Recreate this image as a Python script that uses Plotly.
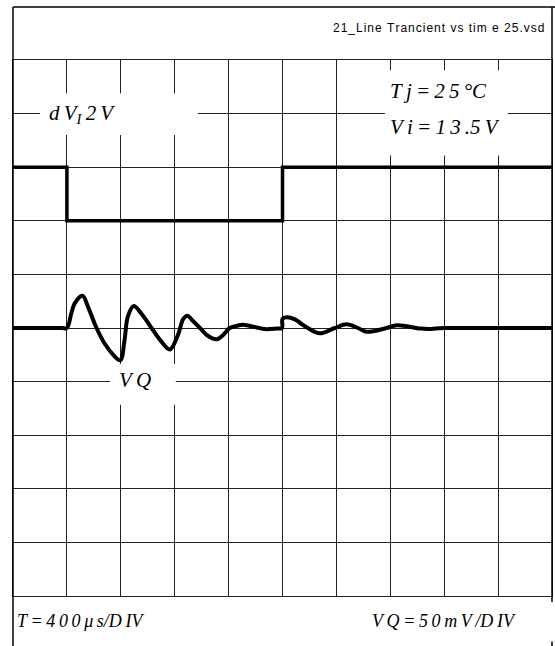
import plotly.graph_objects as go

# ---- data (in screen divisions: x 0..10, y 0..10) ----
step_x = [0, 1, 1, 5, 5, 10]
step_y = [8, 8, 7, 7, 8, 8]

vq_x = [0, 0.9, 1.0, 1.08, 1.145, 1.29, 1.39, 1.55, 1.70, 1.86, 1.99, 2.07, 2.13, 2.24, 2.38,
        2.57, 2.75, 2.91, 3.06, 3.16, 3.24, 3.33, 3.47, 3.62, 3.78, 3.90, 4.02, 4.15, 4.27,
        4.52, 4.67, 4.89, 4.99, 5.0, 5.08, 5.23, 5.36, 5.47, 5.69, 5.97, 6.19, 6.40, 6.56,
        6.93, 7.12, 7.55, 7.70, 7.98, 8.3, 10]
vq_y = [5.0, 5.0, 5.0, 5.27, 5.46, 5.60, 5.40, 5.0, 4.71, 4.50, 4.40, 4.78, 5.21, 5.41, 5.27,
        5.0, 4.75, 4.60, 4.87, 5.17, 5.23, 5.14, 5.0, 4.85, 4.79, 4.87, 5.0, 5.04, 5.06,
        5.01, 4.98, 4.99, 5.0, 5.17, 5.20, 5.16, 5.07, 5.0, 4.90, 5.0, 5.07, 5.0, 4.93,
        5.0, 5.05, 4.99, 4.98, 5.0, 5.0, 5.0]

title_text = "21_Line Trancient vs tim e 25.vsd"
dv_label = "d V<sub>I</sub> 2 V"
tj_label = "T j = 2 5 °C"
vi_label = "V i = 1 3 .5 V"
vq_label = "V Q"
t_div = "T = 4 0 0 μ s/D IV"
vq_div = "V Q = 5 0 m V /D IV"

HS = "\u200a"


def spaced(s):
    return HS.join(list(s))


def thin(s):
    return s.replace(" ", "\u2009")


fig = go.Figure()
fig.add_trace(go.Scatter(x=step_x, y=step_y, mode="lines",
                         line=dict(color="black", width=3.5), hoverinfo="skip"))
fig.add_trace(go.Scatter(x=vq_x, y=vq_y, mode="lines",
                         line=dict(color="black", width=4, shape="spline", smoothing=1.0),
                         hoverinfo="skip"))

serif = dict(family="Liberation Serif", size=21, color="black", style="italic")

shapes = []
# white label boxes hiding grid lines (between grid and traces)
for x0, x1, y0, y1 in [(0.50, 3.43, 8.60, 9.38), (6.90, 9.18, 8.22, 9.81), (1.80, 3.02, 3.57, 4.33)]:
    shapes.append(dict(type="rect", xref="x", yref="y", x0=x0, x1=x1, y0=y0, y1=y1,
                       fillcolor="white", line=dict(width=0), layer="between"))
# outer frame
shapes.append(dict(type="line", xref="paper", yref="paper", x0=0, x1=1.006, y0=1.099, y1=1.099,
                   line=dict(color="black", width=1.5)))
shapes.append(dict(type="line", xref="paper", yref="paper", x0=0, x1=0, y0=-0.095, y1=1.099,
                   line=dict(color="black", width=1.5)))
shapes.append(dict(type="line", xref="paper", yref="paper", x0=1, x1=1, y0=-0.011, y1=1.099,
                   line=dict(color="black", width=1.5)))
shapes.append(dict(type="line", xref="paper", yref="paper", x0=1, x1=1, y0=-0.085, y1=-0.095,
                   line=dict(color="black", width=1.5)))

annotations = [
    dict(xref="paper", yref="paper", x=0.9907, y=1.0597, xanchor="right", yanchor="middle",
         text=spaced(title_text), showarrow=False,
         font=dict(family="Liberation Sans", size=12, color="black")),
    dict(xref="x", yref="y", x=0.63, y=9.0, xanchor="left", yanchor="middle",
         text=thin(dv_label), showarrow=False, font=serif),
    dict(xref="x", yref="y", x=6.96, y=9.43, xanchor="left", yanchor="middle",
         text=thin(tj_label), showarrow=False, font=serif),
    dict(xref="x", yref="y", x=6.96, y=8.75, xanchor="left", yanchor="middle",
         text=thin(vi_label), showarrow=False, font=serif),
    dict(xref="x", yref="y", x=1.93, y=4.03, xanchor="left", yanchor="middle",
         text=thin(vq_label), showarrow=False, font=serif),
    dict(xref="paper", yref="paper", x=0.0037, y=-0.047, xanchor="left", yanchor="middle",
         text=thin(t_div), showarrow=False, font=dict(serif, size=18)),
    dict(xref="paper", yref="paper", x=0.662, y=-0.047, xanchor="left", yanchor="middle",
         text=thin(vq_div), showarrow=False, font=dict(serif, size=18)),
]

axis_common = dict(range=[0, 10], dtick=1, tick0=0, showgrid=True, gridcolor="#222",
                   gridwidth=1, zeroline=False, showticklabels=False, ticks="",
                   showline=True, linecolor="#222", linewidth=1, mirror=True, fixedrange=True)

fig.update_layout(
    width=555, height=646,
    margin=dict(l=13, r=3, t=60, b=50),
    paper_bgcolor="white", plot_bgcolor="white",
    showlegend=False,
    xaxis=axis_common, yaxis=axis_common,
    shapes=shapes, annotations=annotations,
)

fig.write_html("out.html", config={"displayModeBar": False},
               post_script="document.body.style.margin='0';document.body.style.padding='0';"
                           "document.body.style.overflow='hidden';")
